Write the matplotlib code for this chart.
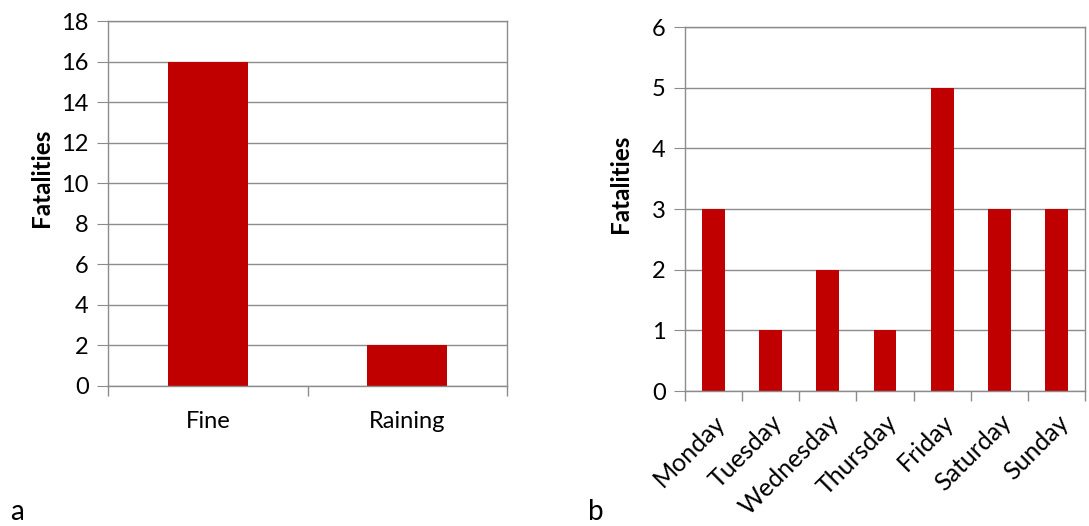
import matplotlib.pyplot as plt
import numpy as np

weather = ['Fine', 'Raining']
weather_fat = [16, 2]

days = ['Monday', 'Tuesday', 'Wednesday', 'Thursday', 'Friday', 'Saturday', 'Sunday']
day_fat = [3, 1, 2, 1, 5, 3, 3]

plt.rcParams['font.family'] = ['Lato', 'DejaVu Sans']
bar_col = '#C00000'
grid_col = '#8c8c8c'

fig = plt.figure(figsize=(10.89, 5.26), dpi=100)
ax1 = fig.add_axes([108/1089, 1-386/526, 399/1089, 365/526])
ax2 = fig.add_axes([685/1089, 1-391/526, 400/1089, 364/526])


def style(ax, n, ymax, step):
    x = np.arange(n)
    ax.set_xlim(-0.5, n - 0.5)
    ax.set_ylim(0, ymax)
    ax.set_yticks(np.arange(0, ymax + 0.1, step))
    ax.set_xticks(x)
    ax.set_xticks(np.arange(n + 1) - 0.5, minor=True)
    ax.tick_params(axis='x', which='major', length=0, labelsize=17, pad=18)
    ax.tick_params(axis='x', which='minor', length=7, color=grid_col, width=1)
    ax.tick_params(axis='y', length=8, color=grid_col, labelsize=17, pad=6)
    ax.grid(axis='y', color=grid_col, lw=1)
    ax.set_axisbelow(True)
    for s in ax.spines.values():
        s.set_color(grid_col)
        s.set_linewidth(1)
    ax.spines['left'].set_zorder(3)
    ax.spines['bottom'].set_zorder(3)
    ax.set_ylabel('Fatalities', fontsize=17.5, fontweight='bold')


style(ax1, len(weather), 18, 2)
ax1.bar(np.arange(len(weather)), weather_fat, width=0.4, color=bar_col)
ax1.set_xticklabels(weather)
ax1.yaxis.set_label_coords(-0.138, 0.57)

style(ax2, len(days), 6, 1)
ax2.bar(np.arange(len(days)), day_fat, width=0.4, color=bar_col)
ax2.set_xticklabels(days, rotation=45, ha='right', rotation_mode='anchor', fontsize=18)
ax2.tick_params(axis='x', which='major', pad=14)
ax2.yaxis.set_label_coords(-0.1325, 0.57)

fig.text(10/1089, 1-512/526, 'a', fontsize=20, va='center')
fig.text(588/1089, 1-512/526, 'b', fontsize=20, va='center')

plt.savefig('out.png', dpi=100)
